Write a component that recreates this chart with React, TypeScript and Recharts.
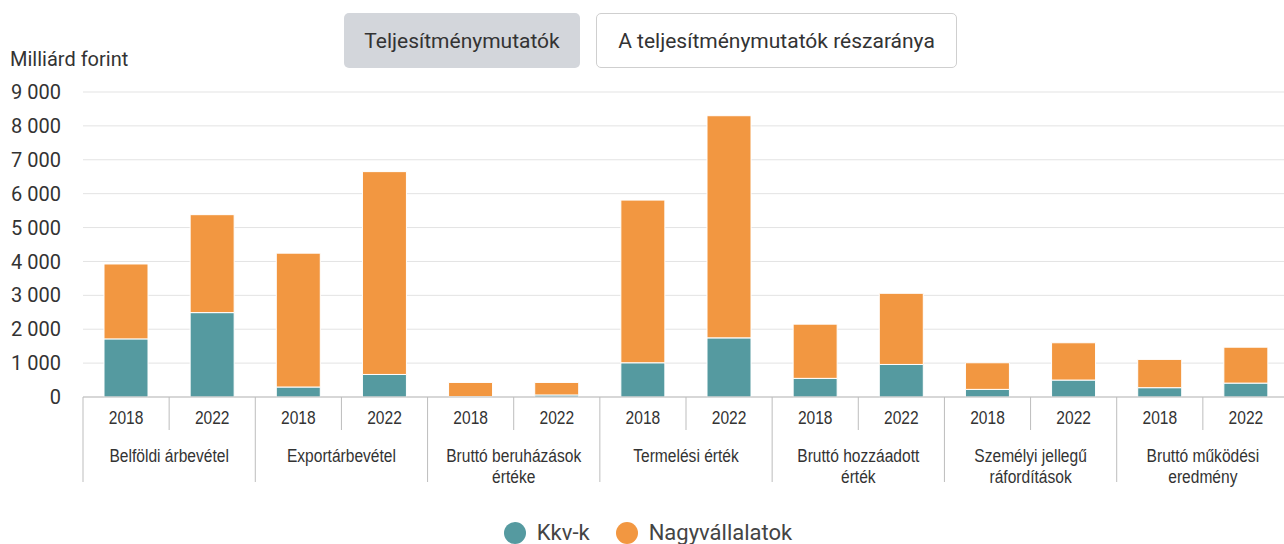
import React from 'react';
import { BarChart, Bar, XAxis, YAxis, CartesianGrid, Legend } from 'recharts';

const years = ['2018', '2022', '2018', '2022', '2018', '2022', '2018', '2022', '2018', '2022', '2018', '2022', '2018', '2022'];
const groups = [
  ['Belföldi árbevétel'],
  ['Exportárbevétel'],
  ['Bruttó beruházások', 'értéke'],
  ['Termelési érték'],
  ['Bruttó hozzáadott', 'érték'],
  ['Személyi jellegű', 'ráfordítások'],
  ['Bruttó működési', 'eredmény'],
];
// Milliárd forint
const kkv = [1715, 2490, 295, 665, 10, 60, 1010, 1745, 550, 960, 225, 500, 275, 410];
const nagy = [2210, 2890, 3950, 5985, 420, 370, 4800, 6555, 1600, 2100, 785, 1100, 835, 1060];
const yTicks = [0, 1000, 2000, 3000, 4000, 5000, 6000, 7000, 8000, 9000];

const TEAL = '#559aa0';
const ORANGE = '#f29741';
const FONT = 'Roboto, sans-serif';
// no narrow face installed, so squeeze Liberation Sans instead
const AXIS_FONT = '"Liberation Sans", Arial, sans-serif';
const NARROW = 0.82;

const W = 1284;
const H = 544;
// the plot runs a few pixels past the right edge of the picture
const CHART_W = 1290;
const PLOT_LEFT = 83;
const PLOT_RIGHT = 1289;
const SLOT = (PLOT_RIGHT - PLOT_LEFT) / years.length;

const chartData = years.map((year, i) => ({ idx: i, year, kkv: kkv[i], nagy: nagy[i] }));

const fmt = (v: number) => v.toLocaleString('en-US').replace(/,/g, ' ');

const NarrowText = ({ x, y, children }: any) => (
  <text
    transform={`translate(${x},${y}) scale(${NARROW},1)`}
    textAnchor="middle"
    fontSize={19}
    fill="#333"
    fontFamily={AXIS_FONT}
  >
    {children}
  </text>
);

const CategoryTick = ({ x, y, payload }: any) => {
  const i = Number(payload.value);
  const left = x - SLOT / 2;
  const right = x + SLOT / 2;
  const groupEnd = i % 2 === 1;
  return (
    <g>
      {i === 0 && <line x1={left} x2={left} y1={y} y2={y + 85} stroke="#bdbdbd" />}
      <line x1={right} x2={right} y1={y} y2={groupEnd ? y + 85 : y + 33} stroke="#bdbdbd" />
      <NarrowText x={x} y={y + 27}>{years[i]}</NarrowText>
      {groupEnd &&
        groups[(i - 1) / 2].map((line, k) => (
          <NarrowText key={k} x={left} y={y + 65 + k * 21}>{line}</NarrowText>
        ))}
    </g>
  );
};

const LegendContent = () => (
  <div style={{ display: 'flex', justifyContent: 'center', alignItems: 'center', fontFamily: FONT, fontSize: 22, color: '#444', paddingLeft: 12 }}>
    <span style={{ display: 'inline-block', width: 22, height: 22, borderRadius: '50%', background: TEAL, marginRight: 11 }} />
    <span style={{ marginRight: 26 }}>Kkv-k</span>
    <span style={{ display: 'inline-block', width: 22, height: 22, borderRadius: '50%', background: ORANGE, marginRight: 11 }} />
    <span>Nagyvállalatok</span>
  </div>
);

const btn: React.CSSProperties = {
  position: 'absolute',
  top: 13,
  height: 55,
  borderRadius: 5,
  boxSizing: 'border-box',
  display: 'flex',
  alignItems: 'center',
  justifyContent: 'center',
  fontFamily: FONT,
  fontSize: 21,
  color: '#333',
  zIndex: 1,
};

export default function App() {
  return (
    <div style={{ position: 'absolute', left: 0, top: 0, width: W, height: H, overflow: 'hidden', background: '#fff', fontFamily: FONT }}>
      <div style={{ ...btn, left: 344, width: 236, background: '#d3d6db' }}>Teljesítménymutatók</div>
      <div style={{ ...btn, left: 596, width: 361, background: '#fff', border: '1px solid #cfcfcf' }}>
        A teljesítménymutatók részaránya
      </div>
      <div style={{ position: 'absolute', left: 10, top: 47, fontSize: 20, color: '#333', zIndex: 1 }}>Milliárd forint</div>
      <BarChart width={CHART_W} height={H} data={chartData} margin={{ top: 92, right: CHART_W - PLOT_RIGHT, left: 0, bottom: 47 }}>
        <CartesianGrid vertical={false} stroke="#e3e3e3" />
        <XAxis
          dataKey="idx"
          interval={0}
          height={100}
          tickSize={0}
          tickMargin={0}
          tickLine={false}
          axisLine={{ stroke: '#bdbdbd' }}
          tick={<CategoryTick />}
        />
        <YAxis
          width={PLOT_LEFT}
          domain={[0, 9000]}
          ticks={yTicks}
          tickFormatter={fmt}
          axisLine={false}
          tickLine={false}
          tickMargin={16}
          tick={{ fontSize: 20, fill: '#333', fontFamily: FONT }}
        />
        <Legend verticalAlign="middle" content={<LegendContent />} wrapperStyle={{ top: 520, left: 0, width: W }} />
        <Bar dataKey="kkv" name="Kkv-k" stackId="a" fill={TEAL} stroke="#fff" strokeWidth={1} barSize={44} isAnimationActive={false} />
        <Bar dataKey="nagy" name="Nagyvállalatok" stackId="a" fill={ORANGE} stroke="#fff" strokeWidth={1} barSize={44} isAnimationActive={false} />
      </BarChart>
    </div>
  );
}
